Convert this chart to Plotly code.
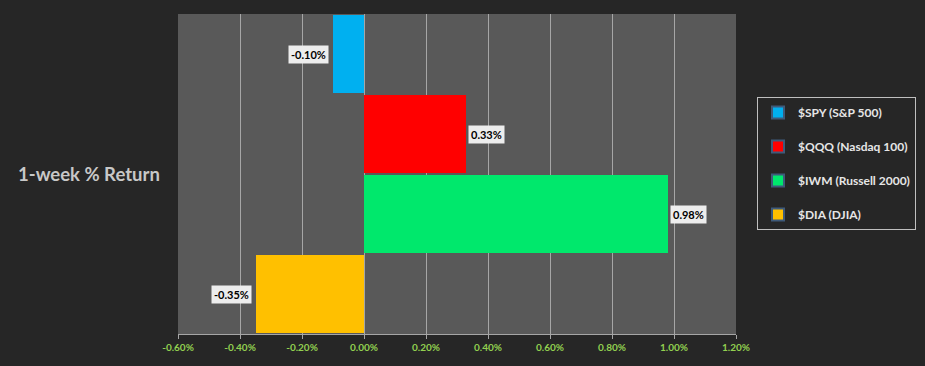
import plotly.graph_objects as go

series_names = ["$SPY (S&P 500)", "$QQQ (Nasdaq 100)", "$IWM (Russell 2000)", "$DIA (DJIA)"]
returns = [-0.0010, 0.0033, 0.0098, -0.0035]
colors = ["#00B0F0", "#FF0000", "#00E86C", "#FFC000"]
x_ticks = [-0.006, -0.004, -0.002, 0.0, 0.002, 0.004, 0.006, 0.008, 0.010, 0.012]
tick_labels = ["-0.60%", "-0.40%", "-0.20%", "0.00%", "0.20%", "0.40%", "0.60%", "0.80%", "1.00%", "1.20%"]
title_text = "1-week % Return"

FONT = "Lato, 'Open Sans', sans-serif"

fig = go.Figure()
for name, val, col in zip(series_names, returns, colors):
    fig.add_trace(go.Bar(
        x=[val], y=[name], orientation="h", name=name,
        marker=dict(color=col, line=dict(width=0)),
        width=0.965, showlegend=False, hoverinfo="x+name",
    ))
    fig.add_trace(go.Scatter(
        x=[None], y=[None], mode="markers", name="<b>" + name + "</b>",
        legendgroup=name,
        marker=dict(symbol="square", size=19, color=col,
                    line=dict(color="#3E5A7A", width=2)),
        showlegend=True,
    ))

annotations = []
for name, val in zip(series_names, returns):
    annotations.append(dict(
        x=val, y=name, xref="x", yref="y",
        text="<b>%.2f%%</b>" % (val * 100),
        showarrow=False,
        xanchor="right" if val < 0 else "left",
        xshift=-4 if val < 0 else 2,
        font=dict(family=FONT, size=11, color="#000000"),
        bgcolor="#EDEDED", borderpad=2,
    ))

annotations.append(dict(
    x=-0.16, y=0.50, xref="paper", yref="paper",
    text="<b>" + title_text + "</b>", showarrow=False,
    xanchor="center", yanchor="middle",
    font=dict(family=FONT, size=18.5, color="#C8C8C8"),
))

fig.update_layout(
    width=925, height=366,
    margin=dict(l=178, r=189, t=14, b=32, autoexpand=False),
    paper_bgcolor="#262626", plot_bgcolor="#595959",
    bargap=0.0, barmode="overlay",
    annotations=annotations,
    legend=dict(
        xref="container", yref="container",
        x=757 / 925, y=1 - 97 / 366, xanchor="left", yanchor="top",
        bgcolor="#262626", bordercolor="#BFBFBF", borderwidth=1,
        font=dict(family=FONT, size=12, color="#E6E6E6"),
        tracegroupgap=15, itemsizing="constant",
    ),
    xaxis=dict(
        range=[-0.006, 0.012], tickvals=x_ticks,
        ticktext=["<b>%s</b>" % t for t in tick_labels],
        showgrid=True, gridcolor="#A6A6A6", gridwidth=1,
        zeroline=False, showline=True, linecolor="#A6A6A6", linewidth=1,
        ticks="outside", ticklen=4, tickcolor="#A6A6A6",
        tickfont=dict(family=FONT, size=10, color="#92D050"),
        fixedrange=True,
    ),
    yaxis=dict(
        categoryorder="array", categoryarray=series_names,
        autorange=False, range=[3.5, -0.5], showticklabels=False, showgrid=False,
        zeroline=False, showline=False,
    ),
    font=dict(family=FONT),
    showlegend=True,
)

fig.write_html(
    "out.html",
    config={"displayModeBar": False},
    post_script="document.body.style.margin='0';document.body.style.background='#262626';",
)
